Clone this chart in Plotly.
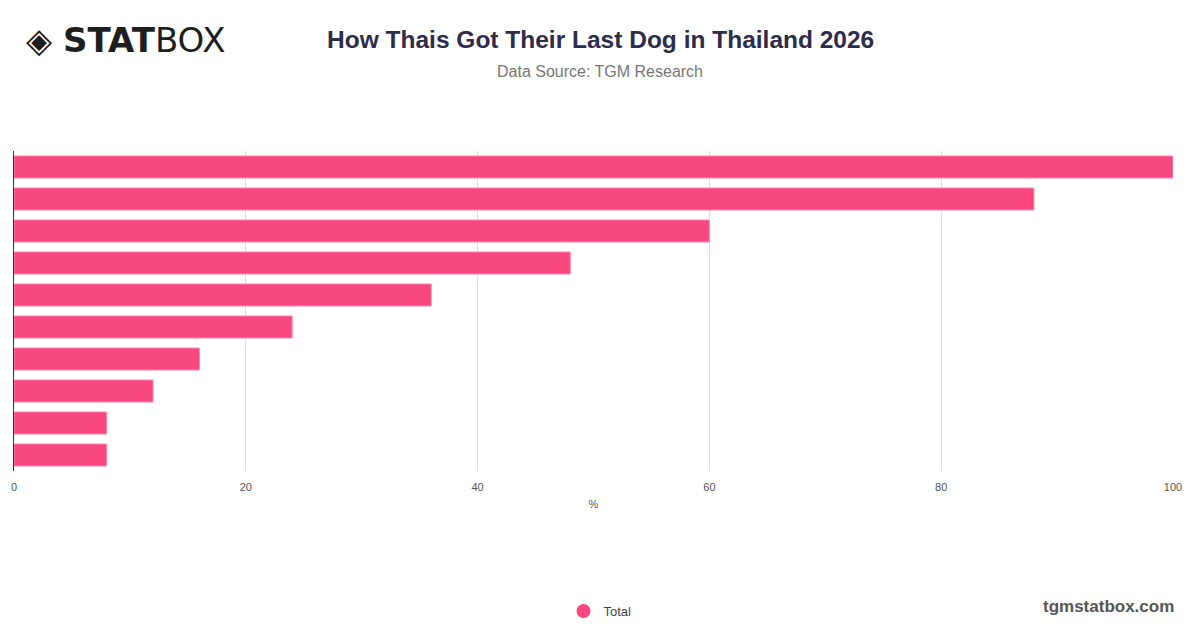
import plotly.graph_objects as go

categories = [
    "Bought from a breeder",
    "Adopted from family or friends",
    "Bought from a pet shop",
    "Adopted from an animal shelter",
    "Found a stray dog",
    "Received as a gift",
    "Bought online",
    "Adopted from a rescue group",
    "Born from own dog",
    "Other",
]
values = [100, 88, 60, 48, 36, 24, 16, 12, 8, 8]
x_ticks = [0, 20, 40, 60, 80, 100]
series_name = "Total"
title_text = "How Thais Got Their Last Dog in Thailand 2026"
subtitle_text = "Data Source: TGM Research"

bar_color = "#f8487f"

# page offset (body margin) compensation
OFF = 8
W, H = 1200 - 2 * OFF, 628 - 2 * OFF
PL, PR, PT, PB = 14 - OFF, 1173 - OFF, 151 - OFF, 471 - OFF


def px_x(px):
    return (px - OFF - PL) / (PR - PL)


def px_y(py):
    return (PB - (py - OFF)) / (PB - PT)


fig = go.Figure()
fig.add_trace(go.Bar(
    y=categories, x=values, orientation="h", name=series_name,
    marker=dict(color=bar_color, line=dict(color="#ff8fb4", width=1)),
    showlegend=False,
    hovertemplate="%{y}: %{x}%<extra></extra>",
))
fig.add_trace(go.Scatter(
    x=[None], y=[None], mode="markers", name=series_name,
    marker=dict(symbol="circle", size=14, color=bar_color),
    showlegend=True,
))

annotations = [
    dict(text="<b>" + title_text + "</b>",
         x=px_x(600), y=px_y(40), xref="paper", yref="paper", showarrow=False,
         xanchor="center", yanchor="middle",
         font=dict(size=24.5, color="#2e2c4b", family="Liberation Sans, Arial, sans-serif")),
    dict(text=subtitle_text,
         x=px_x(600), y=px_y(71), xref="paper", yref="paper", showarrow=False,
         xanchor="center", yanchor="middle",
         font=dict(size=16, color="#777777", family="Liberation Sans, Arial, sans-serif")),
    dict(text="◈ <b>STAT</b>BOX",
         x=px_x(24), y=px_y(40), xref="paper", yref="paper", showarrow=False,
         xanchor="left", yanchor="middle",
         font=dict(size=34, color="#1e1e1e", family="DejaVu Sans, sans-serif")),
    dict(text="<b>tgmstatbox.com</b>",
         x=px_x(1176), y=px_y(606), xref="paper", yref="paper", showarrow=False,
         xanchor="right", yanchor="middle",
         font=dict(size=17, color="#555555", family="Liberation Sans, Arial, sans-serif")),
]

fig.update_layout(
    width=W, height=H,
    paper_bgcolor="white", plot_bgcolor="white",
    margin=dict(l=PL, r=W - PR, t=PT, b=H - PB, autoexpand=False),
    bargap=0.31,
    font=dict(family="Liberation Sans, Arial, sans-serif", color="#555"),
    xaxis=dict(
        range=[0, 100], tickvals=x_ticks, showgrid=True, gridcolor="#dddddd",
        gridwidth=1, zeroline=False, ticks="outside", ticklen=6, tickcolor="rgba(0,0,0,0)",
        tickfont=dict(size=11, color="#555"),
        title=dict(text="%", font=dict(size=11, color="#555"), standoff=8),
        fixedrange=True,
    ),
    yaxis=dict(
        autorange="reversed", showticklabels=False, showgrid=False,
        showline=True, linecolor="#333333", linewidth=1, ticks="", zeroline=False,
    ),
    legend=dict(
        orientation="h", x=px_x(600), xanchor="center", y=px_y(611), yanchor="middle",
        font=dict(size=13, color="#444"),
    ),
    annotations=annotations,
)

fig.write_html("out.html", config={"displayModeBar": False})
